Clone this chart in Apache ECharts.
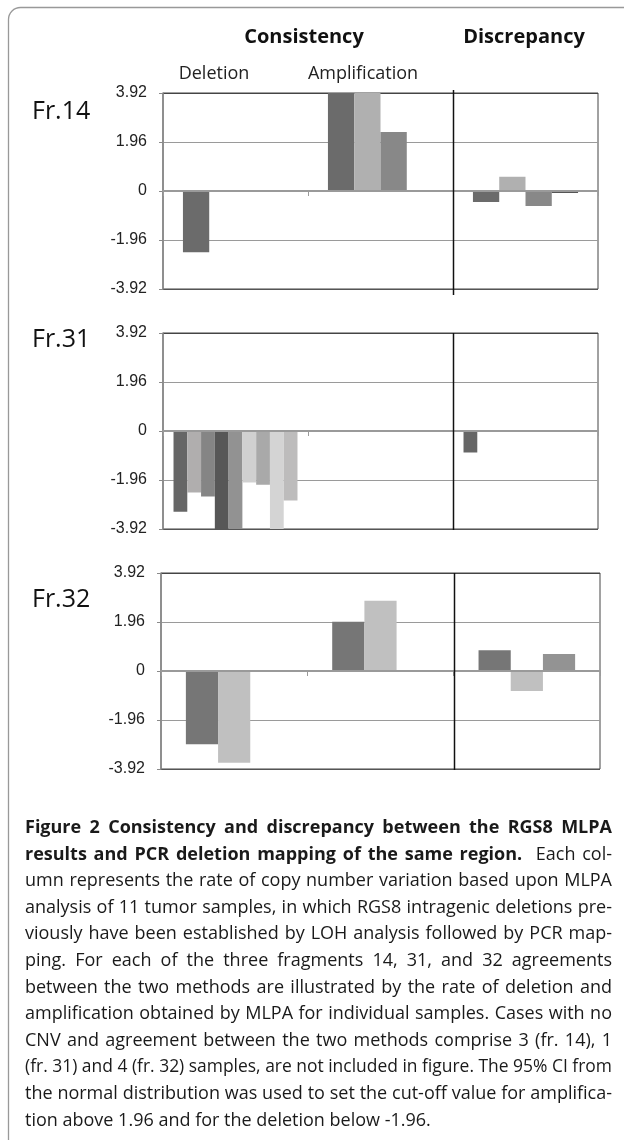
<!DOCTYPE html>
<html>
<head>
<meta charset="utf-8">
<script src="https://cdn.jsdelivr.net/npm/echarts@6/dist/echarts.min.js"></script>
<style>
  html, body { margin: 0; padding: 0; background: #fff; }
  #wrap { position: relative; width: 624px; height: 1140px; overflow: hidden; }
  #chart { position: absolute; left: 0; top: 0; width: 624px; height: 1140px; }
  #caption { position: absolute; left: 25px; top: 813px; width: 587px; font-family: "Open Sans", sans-serif; color: #1a1a1a; line-height: 26.6px; font-size: 18px; }
  #caption .ln { white-space: nowrap; text-align: justify; text-align-last: justify; transform-origin: 0 50%; height: 26.6px; }
  #caption .ln.last { text-align-last: left; }
  #caption b { font-weight: 700; }
</style>
</head>
<body>
<div id="wrap">
  <div id="chart"></div>
  <div id="caption"></div>
</div>
<script>
// ---------- data ----------
const categories = ['Deletion', 'Amplification', 'Discrepancy'];
const yTicks = [-3.92, -1.96, 0, 1.96, 3.92];
const panelLabels = ['Fr.14', 'Fr.31', 'Fr.32'];
const headerLabels = ['Consistency', 'Discrepancy'];
const subLabels = ['Deletion', 'Amplification'];

const fr14Deletion = [-2.45];
const fr14Amplification = [3.92, 3.92, 2.36];
const fr14Discrepancy = [-0.44, 0.57, -0.60, -0.08];

const fr31Deletion = [-3.23, -2.46, -2.62, -3.92, -3.92, -2.06, -2.15, -3.92, -2.78];
const fr31Amplification = [];
const fr31Discrepancy = [-0.86];

const fr32Deletion = [-2.93, -3.67];
const fr32Amplification = [1.97, 2.81];
const fr32Discrepancy = [0.83, -0.80, 0.68];

const captionLines = [
  [['b', 'Figure 2 Consistency and discrepancy between the RGS8 MLPA']],
  [['b', 'results and PCR deletion mapping of the same region.'], ['r', '\u00a0 Each col-']],
  [['r', 'umn represents the rate of copy number variation based upon MLPA']],
  [['r', 'analysis of 11 tumor samples, in which RGS8 intragenic deletions pre-']],
  [['r', 'viously have been established by LOH analysis followed by PCR map-']],
  [['r', 'ping. For each of the three fragments 14, 31, and 32 agreements']],
  [['r', 'between the two methods are illustrated by the rate of deletion and']],
  [['r', 'amplification obtained by MLPA for individual samples. Cases with no']],
  [['r', 'CNV and agreement between the two methods comprise 3 (fr. 14), 1']],
  [['r', '(fr. 31) and 4 (fr. 32) samples, are not included in figure. The 95% CI from']],
  [['r', 'the normal distribution was used to set the cut-off value for amplifica-']],
  [['r', 'tion above 1.96 and for the deletion below -1.96.']]
];

// ---------- styling / layout ----------
const panels = [
  { values: [fr14Deletion, fr14Amplification, fr14Discrepancy],
    colors: ['#6b6b6b', '#b0b0b0', '#888888', '#555555'],
    grid: { left: 163, top: 93, width: 435, height: 196 }, gap: '27.5%', labelY: 112 },
  { values: [fr31Deletion, fr31Amplification, fr31Discrepancy],
    colors: ['#666666', '#b0aeae', '#858585', '#575757', '#929292', '#d0d0d0', '#a9a9a9', '#d4d4d4', '#bdbcbc'],
    grid: { left: 163, top: 333, width: 435, height: 196 }, gap: '14.5%', labelY: 340 },
  { values: [fr32Deletion, fr32Amplification, fr32Discrepancy],
    colors: ['#767676', '#c0c0c0', '#939393'],
    grid: { left: 161, top: 573, width: 439, height: 196 }, gap: '34%', labelY: 600 }
];

const grids = [], xAxes = [], yAxes = [], series = [];
panels.forEach((p, i) => {
  grids.push(Object.assign({ show: true, borderColor: '#444', borderWidth: 1, backgroundColor: 'transparent' }, p.grid));
  xAxes.push({
    type: 'category', gridIndex: i, data: categories, boundaryGap: true, z: 5,
    axisLabel: { show: false },
    axisLine: { show: true, onZero: true, lineStyle: { color: '#9a9a9a', width: 2 } },
    axisTick: { show: true, length: 5, lineStyle: { color: '#9a9a9a', width: 1 } },
    splitLine: { show: false }
  });
  yAxes.push({
    type: 'value', gridIndex: i,
    min: yTicks[0], max: yTicks[yTicks.length - 1], interval: yTicks[1] - yTicks[0],
    axisLabel: {
      fontFamily: 'Liberation Sans', fontSize: 16, color: '#222', margin: 16,
      formatter: v => Math.abs(v) < 1e-6 ? '0' : v.toFixed(2)
    },
    axisLine: { show: true, lineStyle: { color: '#8a8a8a', width: 1.5 } },
    axisTick: { show: true, length: 4, lineStyle: { color: '#8a8a8a' } },
    splitLine: { show: true, lineStyle: { color: ['#555', '#9a9a9a', '#9a9a9a', '#9a9a9a', '#444'], width: 1 } }
  });
  const n = Math.max(...p.values.map(a => a.length));
  for (let s = 0; s < n; s++) {
    series.push({
      type: 'bar', xAxisIndex: i, yAxisIndex: i,
      data: p.values.map(a => (a[s] === undefined ? '-' : a[s])),
      barGap: '0%', barCategoryGap: p.gap,
      itemStyle: { color: p.colors[s % p.colors.length] },
      silent: true, animation: false
    });
  }
});

const textFont = '"Open Sans", sans-serif';
const graphics = [
  { type: 'rect', z: -10, shape: { x: 8.5, y: 7.5, width: 720, height: 1220, r: 12 },
    style: { fill: 'none', stroke: '#999', lineWidth: 1.3 } },
  { type: 'text', x: 304, y: 37, style: { text: headerLabels[0], font: 'bold 20px ' + textFont, fill: '#111', align: 'center', verticalAlign: 'middle' } },
  { type: 'text', x: 524, y: 37, style: { text: headerLabels[1], font: 'bold 20px ' + textFont, fill: '#111', align: 'center', verticalAlign: 'middle' } },
  { type: 'text', x: 214, y: 74, style: { text: subLabels[0], font: '18px ' + textFont, fill: '#222', align: 'center', verticalAlign: 'middle' } },
  { type: 'text', x: 363, y: 74, style: { text: subLabels[1], font: '18px ' + textFont, fill: '#222', align: 'center', verticalAlign: 'middle' } }
];
panels.forEach((p, i) => {
  graphics.push({ type: 'text', x: 32, y: p.labelY, style: { text: panelLabels[i], font: '25px ' + textFont, fill: '#111', align: 'left', verticalAlign: 'middle' } });
});

const chart = echarts.init(document.getElementById('chart'), null, { renderer: 'canvas' });
chart.setOption({
  animation: false,
  grid: grids, xAxis: xAxes, yAxis: yAxes, series: series,
  graphic: graphics
});

// divider between consistency and discrepancy, placed via the axis scale
const dividers = panels.map((p, i) => {
  const xa = chart.convertToPixel({ xAxisIndex: i }, categories[1]);
  const xb = chart.convertToPixel({ xAxisIndex: i }, categories[2]);
  const x = Math.round((xa + xb) / 2) + 0.5;
  const yTop = chart.convertToPixel({ yAxisIndex: i }, yTicks[yTicks.length - 1]);
  const yBot = chart.convertToPixel({ yAxisIndex: i }, yTicks[0]);
  const ext = i === 0 ? [3, 6] : [0, 1];
  return { type: 'line', z: 10, shape: { x1: x, y1: yTop - ext[0], x2: x, y2: yBot + ext[1] },
           style: { stroke: '#111', lineWidth: 1.5 } };
});
chart.setOption({ graphic: graphics.concat(dividers) });

// caption: justified lines; lines wider than the column are compressed horizontally
const cap = document.getElementById('caption');
const FULL = 587, SIZE = 18;
const mctx = document.createElement('canvas').getContext('2d');
captionLines.forEach((line, idx) => {
  const isLast = idx === captionLines.length - 1;
  let natural = 0;
  line.forEach(([b, t]) => { mctx.font = (b === 'b' ? '700 ' : '400 ') + SIZE + 'px "Open Sans"'; natural += mctx.measureText(t).width; });
  let k = 1;
  if (natural > FULL) k = FULL / natural;
  const d = document.createElement('div');
  d.className = 'ln' + (isLast ? ' last' : '');
  d.style.width = (FULL / k) + 'px';
  d.style.transform = 'scaleX(' + k.toFixed(4) + ')';
  line.forEach(([w, t]) => {
    const el = document.createElement(w === 'b' ? 'b' : 'span');
    el.textContent = t;
    d.appendChild(el);
  });
  cap.appendChild(d);
});
</script>
</body>
</html>
